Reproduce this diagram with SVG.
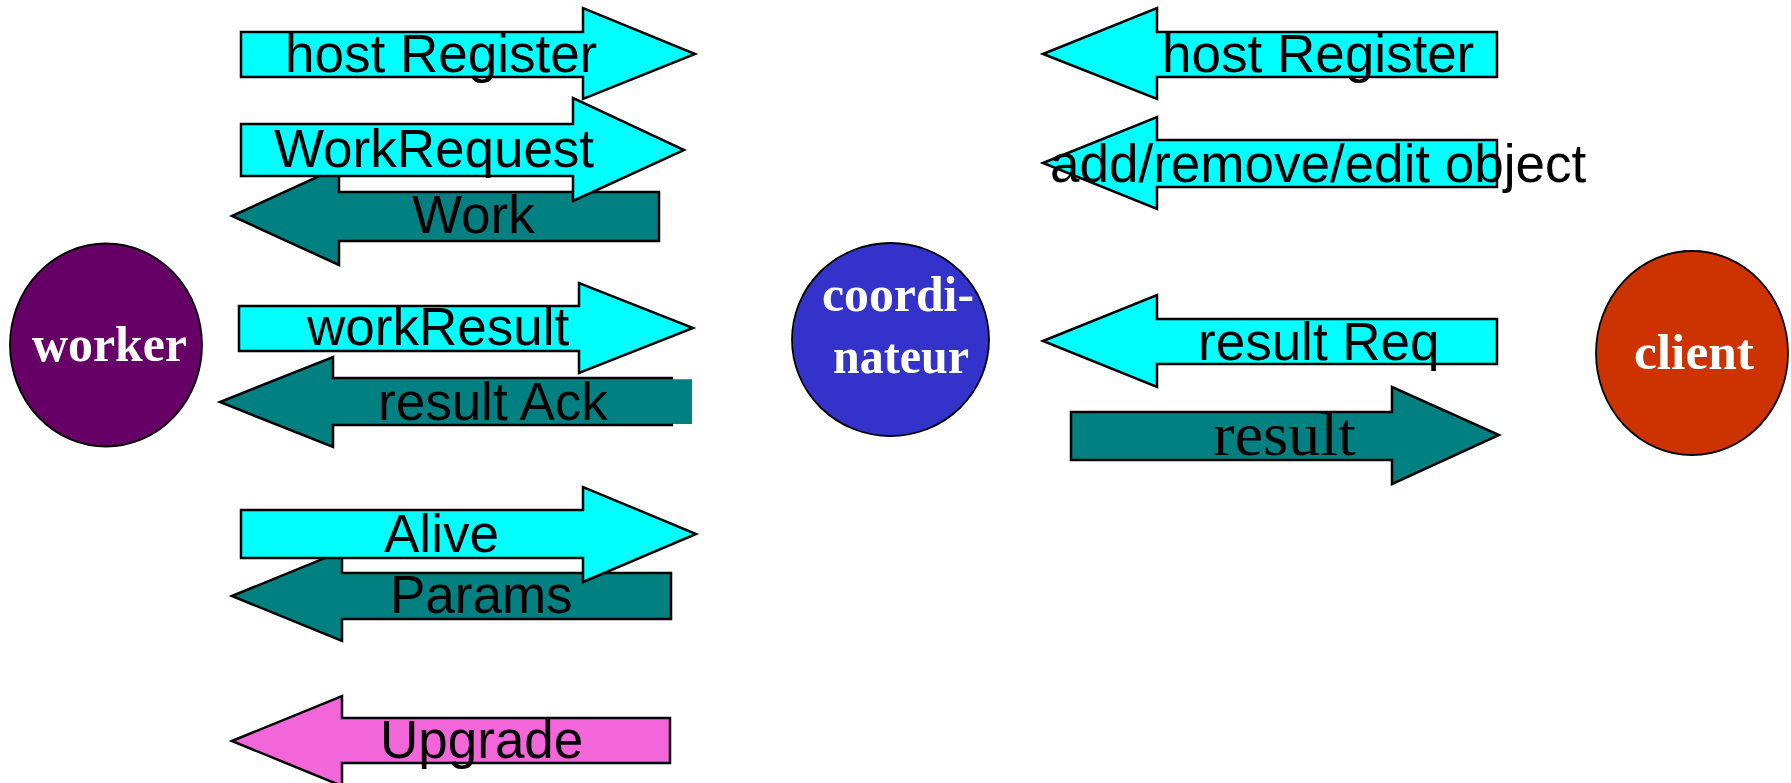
<svg xmlns="http://www.w3.org/2000/svg" width="1791" height="783" viewBox="0 0 1791 783">
<style>
.cy{fill:#00ffff;stroke:#000;stroke-width:2.5;stroke-linejoin:miter}
.tl{fill:#008080;stroke:#000;stroke-width:2.5;stroke-linejoin:miter}
.pk{fill:#f366d9;stroke:#000;stroke-width:2.5;stroke-linejoin:miter}
.ln{fill:none;stroke:#000;stroke-width:2.5;stroke-linejoin:miter}
.lb{font-family:"Liberation Sans",Arial,sans-serif;font-size:53px;fill:#000}
.sr{font-family:"Liberation Serif","Times New Roman",serif;font-size:62px;fill:#000}
.nd{font-family:"Liberation Serif","Times New Roman",serif;font-size:50px;font-weight:bold;fill:#fff}
.el{stroke:#000;stroke-width:1.8}
</style>
<rect width="1791" height="783" fill="#fff"/>
<g id="worker">
<ellipse class="el" cx="106" cy="345" rx="96" ry="101.5" fill="#660066"/>
<text class="nd" x="32" y="361" textLength="155" lengthAdjust="spacingAndGlyphs">worker</text>
</g>
<g id="coordinateur">
<ellipse class="el" cx="890.5" cy="339.5" rx="98.5" ry="96.5" fill="#3333cc"/>
<text class="nd" x="822" y="311" textLength="152" lengthAdjust="spacingAndGlyphs">coordi-</text>
<text class="nd" x="833" y="373" textLength="136" lengthAdjust="spacingAndGlyphs">nateur</text>
</g>
<g id="client">
<ellipse class="el" cx="1692" cy="353" rx="96" ry="102" fill="#cc3300"/>
<text class="nd" x="1634" y="369" textLength="120" lengthAdjust="spacingAndGlyphs">client</text>
</g>
<g id="connectors">
<g id="hostRegisterW">
<polygon class="cy" points="241,32 583,32 583,8 695,54 583,99 583,77 241,77"/>
<text class="lb" x="285" y="72">host Register</text>
</g>
<g id="work">
<polygon class="tl" points="232,216 339,167 339,192 659,192 659,241 339,241 339,265"/>
<text class="lb" x="412" y="233">Work</text>
</g>
<g id="workRequest">
<polygon class="cy" points="241,124 573,124 573,98 684,150 573,201 573,176 241,176"/>
<text class="lb" x="274" y="167">WorkRequest</text>
</g>
<g id="workResult">
<polygon class="cy" points="239,306 579,306 579,283 693,328 579,373 579,351 239,351"/>
<text class="lb" x="307" y="345">workResult</text>
</g>
<g id="resultAck">
<polygon fill="#008080" points="220,402 333,357 333,378 673,378 673,379.3 692,379.3 692,424 673,424 673,425 333,425 333,447"/>
<polyline class="ln" points="673,378 333,378 333,357 220,402 333,447 333,425 673,425"/>
<text class="lb" x="378" y="420">result Ack</text>
</g>
<g id="params">
<polygon class="tl" points="232,596 342,551 342,573 671,573 671,619 342,619 342,641"/>
<text class="lb" x="390" y="613">Params</text>
</g>
<g id="alive">
<polygon class="cy" points="241,510 583,510 583,487 696,534 583,582 583,558 241,558"/>
<text class="lb" x="384" y="552">Alive</text>
</g>
<g id="upgrade">
<polygon class="pk" points="232,741 342,696 342,718 670,718 670,763 342,763 342,786"/>
<text class="lb" x="380" y="758">Upgrade</text>
</g>
<g id="hostRegisterC">
<polygon class="cy" points="1043,54 1157,8 1157,32 1497,32 1497,77 1157,77 1157,99"/>
<text class="lb" x="1162" y="72">host Register</text>
</g>
<g id="addRemoveEdit">
<polygon class="cy" points="1043,163 1157,117 1157,140 1497,140 1497,187 1157,187 1157,209"/>
<text class="lb" x="1050" y="182">add/remove/edit object</text>
</g>
<g id="resultReq">
<polygon class="cy" points="1043,341 1157,295 1157,319 1497,319 1497,364 1157,364 1157,387"/>
<text class="lb" x="1198" y="360">result Req</text>
</g>
<g id="result">
<polygon class="tl" points="1071,412 1392,412 1392,387 1499,435 1392,484 1392,460 1071,460"/>
<text class="sr" x="1213" y="455" textLength="143" lengthAdjust="spacingAndGlyphs">result</text>
</g>
</g>
</svg>
